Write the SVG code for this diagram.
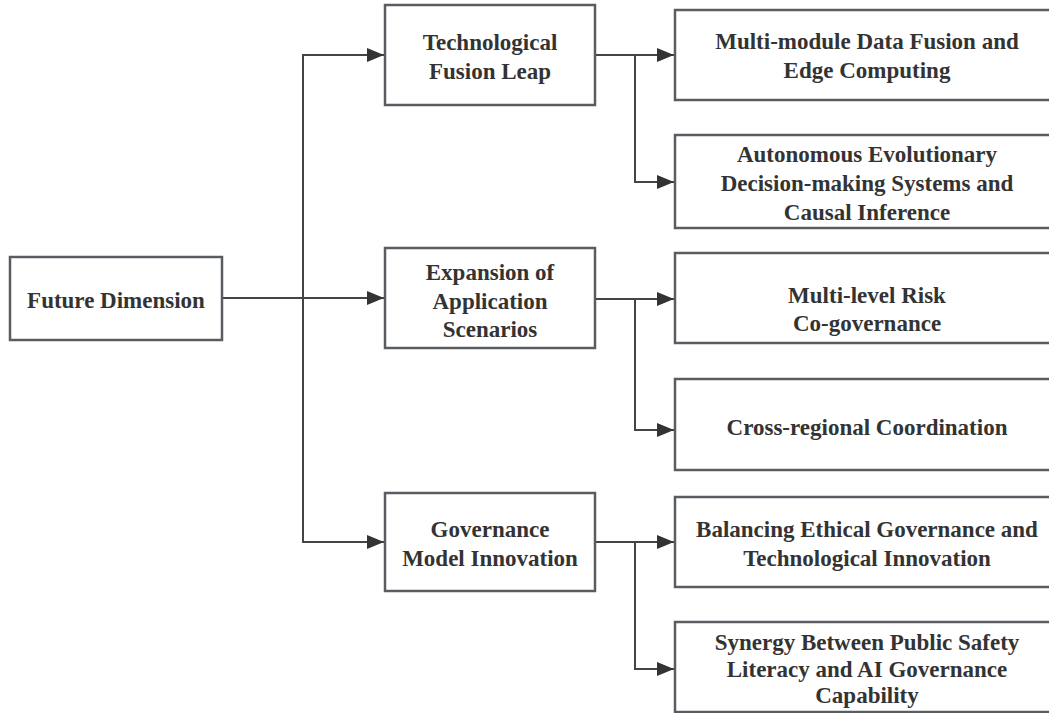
<svg xmlns="http://www.w3.org/2000/svg" width="1049" height="713" viewBox="0 0 1049 713">
<defs>
<style>
.box{fill:#fff;stroke:#595d61;stroke-width:2.5}
.t{font-family:"Liberation Serif","Times New Roman",serif;font-weight:bold;font-size:23px;fill:#333;text-anchor:middle}
.c{fill:none;stroke:#444;stroke-width:2}
</style>
<marker id="ah" markerUnits="userSpaceOnUse" markerWidth="18" markerHeight="16" refX="17" refY="7" orient="auto">
<path d="M0,0 L17,7 L0,14 Z" fill="#333"/>
</marker>
</defs>
<rect width="1049" height="713" fill="#fff"/>
<g id="connectors">
<path class="c" d="M222,298 H303 V55 H384" marker-end="url(#ah)"/>
<path class="c" d="M222,298 H384" marker-end="url(#ah)"/>
<path class="c" d="M303,298 V542 H384" marker-end="url(#ah)"/>
<path class="c" d="M595,55 H674" marker-end="url(#ah)"/>
<path class="c" d="M635,55 V182 H674" marker-end="url(#ah)"/>
<path class="c" d="M595,299 H674" marker-end="url(#ah)"/>
<path class="c" d="M635,299 V430 H674" marker-end="url(#ah)"/>
<path class="c" d="M595,542 H674" marker-end="url(#ah)"/>
<path class="c" d="M635,542 V669 H674" marker-end="url(#ah)"/>
</g>
<g id="future-dimension">
<rect class="box" x="10" y="257" width="212" height="83"/>
<text class="t" x="116" y="308">Future Dimension</text>
</g>
<g id="technological-fusion-leap">
<rect class="box" x="385" y="5" width="210" height="100"/>
<text class="t" x="490" y="50">Technological</text>
<text class="t" x="490" y="79">Fusion Leap</text>
</g>
<g id="expansion-of-application-scenarios">
<rect class="box" x="385" y="248" width="210" height="100"/>
<text class="t" x="490" y="280">Expansion of</text>
<text class="t" x="490" y="309">Application</text>
<text class="t" x="490" y="337">Scenarios</text>
</g>
<g id="governance-model-innovation">
<rect class="box" x="385" y="493" width="210" height="98"/>
<text class="t" x="490" y="537">Governance</text>
<text class="t" x="490" y="566">Model Innovation</text>
</g>
<g id="multi-module-data-fusion">
<rect class="box" x="675" y="10" width="384" height="90"/>
<text class="t" x="867" y="49">Multi-module Data Fusion and</text>
<text class="t" x="867" y="78">Edge Computing</text>
</g>
<g id="autonomous-evolutionary">
<rect class="box" x="675" y="135" width="384" height="93"/>
<text class="t" x="867" y="162">Autonomous Evolutionary</text>
<text class="t" x="867" y="191">Decision-making Systems and</text>
<text class="t" x="867" y="220">Causal Inference</text>
</g>
<g id="multi-level-risk">
<rect class="box" x="675" y="253" width="384" height="90"/>
<text class="t" x="867" y="303">Multi-level Risk</text>
<text class="t" x="867" y="331">Co-governance</text>
</g>
<g id="cross-regional-coordination">
<rect class="box" x="675" y="379" width="384" height="91"/>
<text class="t" x="867" y="435">Cross-regional Coordination</text>
</g>
<g id="balancing-ethical-governance">
<rect class="box" x="675" y="497" width="384" height="90"/>
<text class="t" x="867" y="537">Balancing Ethical Governance and</text>
<text class="t" x="867" y="566">Technological Innovation</text>
</g>
<g id="synergy-public-safety">
<rect class="box" x="675" y="622" width="384" height="90"/>
<text class="t" x="867" y="650">Synergy Between Public Safety</text>
<text class="t" x="867" y="677">Literacy and AI Governance</text>
<text class="t" x="867" y="703">Capability</text>
</g>
</svg>
